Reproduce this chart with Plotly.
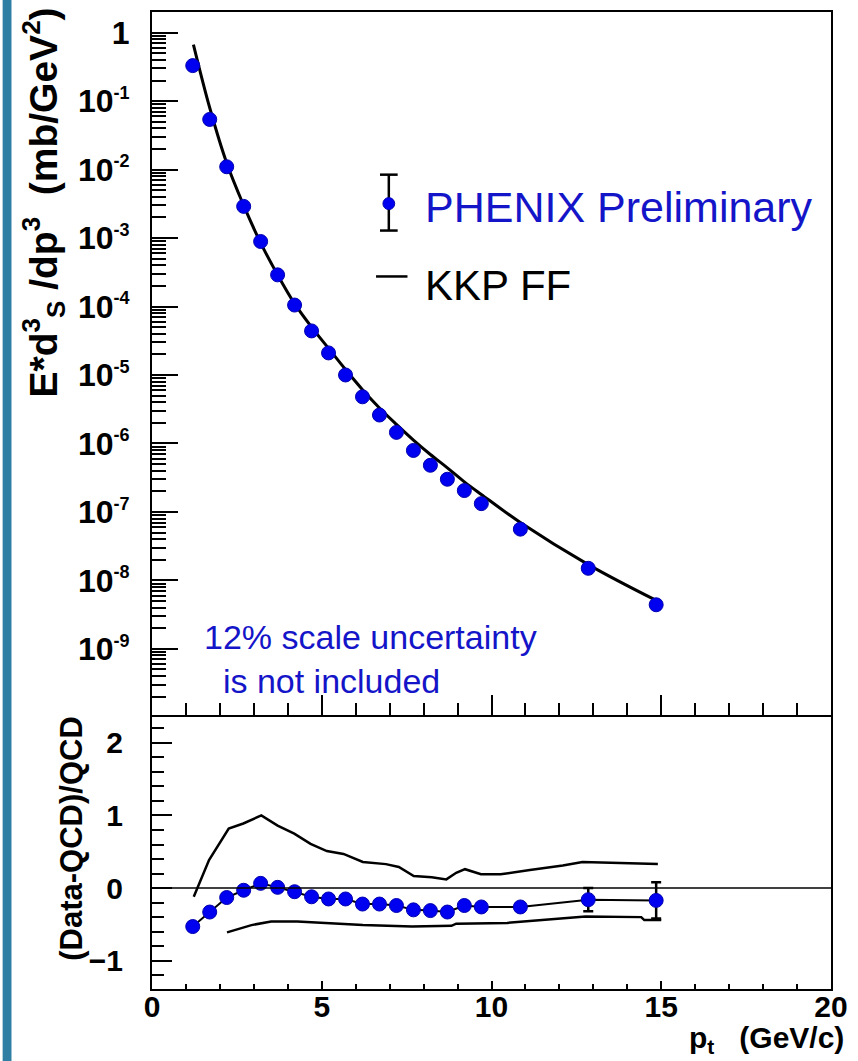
import plotly.graph_objects as go

# ---------------- data ----------------
pt = [1.2, 1.7, 2.2, 2.7, 3.2, 3.7, 4.2, 4.7, 5.2, 5.7, 6.2, 6.7, 7.2, 7.7,
      8.2, 8.7, 9.2, 9.7, 10.85, 12.85, 14.85]
xsec = [0.33, 0.054, 0.011, 2.9e-3, 8.9e-4, 2.9e-4, 1.05e-4, 4.4e-5, 2.1e-5,
        1.0e-5, 4.8e-6, 2.6e-6, 1.45e-6, 7.9e-7, 4.8e-7, 3.0e-7, 2.05e-7,
        1.32e-7, 5.6e-8, 1.5e-8, 4.4e-9]
ratio = [-0.53, -0.33, -0.13, -0.03, 0.065, 0.01, -0.05, -0.12, -0.15, -0.15,
         -0.22, -0.22, -0.24, -0.30, -0.31, -0.33, -0.24, -0.26, -0.26, -0.16,
         -0.17]
ratio_err = [0.05, 0.05, 0.05, 0.05, 0.05, 0.05, 0.05, 0.05, 0.05, 0.05, 0.05,
             0.05, 0.05, 0.05, 0.05, 0.05, 0.05, 0.05, 0.05, 0.16, 0.25]

kkp_pt = [1.22, 1.7, 2.2, 2.7, 3.2, 3.7, 4.2, 4.7, 5.2, 5.7, 6.2, 6.7, 7.2,
          7.7, 8.2, 8.7, 9.2, 9.7, 10.85, 12.85, 14.85]
kkp = [0.67, 0.08, 0.0125, 3.0e-3, 8.5e-4, 2.9e-4, 1.1e-4, 5.0e-5, 2.45e-5,
       1.2e-5, 6.1e-6, 3.3e-6, 1.9e-6, 1.12e-6, 6.9e-7, 4.4e-7, 2.75e-7,
       1.8e-7, 7.0e-8, 1.7e-8, 5.1e-9]

up_pt = [1.23, 1.68, 2.26, 2.69, 3.22, 3.7, 4.19, 4.67, 5.15, 5.64, 6.21,
         6.89, 7.27, 7.71, 8.24, 8.67, 8.96, 9.22, 9.69, 10.27, 11.13, 12.1,
         12.68, 13.74, 14.9]
up = [-0.12, 0.385, 0.82, 0.89, 1.0, 0.86, 0.75, 0.61, 0.51, 0.47, 0.36,
      0.33, 0.29, 0.165, 0.15, 0.12, 0.21, 0.26, 0.19, 0.19, 0.25, 0.31,
      0.36, 0.35, 0.33]

lo_pt = [2.21, 2.93, 3.51, 4.28, 6.21, 7.27, 7.66, 8.82, 8.96, 10.46, 11.42,
         12.1, 12.77, 14.41, 14.5, 15.0]
lo = [-0.61, -0.51, -0.46, -0.46, -0.51, -0.52, -0.53, -0.52, -0.49, -0.48,
      -0.44, -0.42, -0.39, -0.40, -0.44, -0.44]

top_tickvals = [1, 1e-1, 1e-2, 1e-3, 1e-4, 1e-5, 1e-6, 1e-7, 1e-8, 1e-9]
top_exponents = ["", "-1", "-2", "-3", "-4", "-5", "-6", "-7", "-8", "-9"]

# ---------------- layout helpers ----------------
W, H = 858, 1061
L, R, T, B = 152, 15, 10, 72
PW, PH = W - L - R, H - T - B
split = 275 / PH

def px_x(px):
    return (px - L) / PW

def px_y(py):
    return (H - B - py) / PH

FONT = "Liberation Sans, Arial, sans-serif"
BLUE = "#0000f0"

top_ticktext = ["1" if e == "" else
                '10<sup><span style="font-size:18px">%s</span></sup>' % e
                for e in top_exponents]

minor_log = [k * 10.0 ** e for e in range(-10, 1) for k in range(2, 10)]

fig = go.Figure()

# top panel
fig.add_trace(go.Scatter(x=kkp_pt, y=kkp, mode="lines", line=dict(color="black", width=3, shape="spline"),
                         xaxis="x", yaxis="y", showlegend=False))
fig.add_trace(go.Scatter(x=pt, y=xsec, mode="markers",
                         marker=dict(color=BLUE, size=14, line=dict(color="#0000b0", width=1)),
                         xaxis="x", yaxis="y", showlegend=False))

# bottom panel
fig.add_trace(go.Scatter(x=up_pt, y=up, mode="lines", line=dict(color="black", width=2.5),
                         xaxis="x2", yaxis="y2", showlegend=False))
fig.add_trace(go.Scatter(x=lo_pt, y=lo, mode="lines", line=dict(color="black", width=2.5),
                         xaxis="x2", yaxis="y2", showlegend=False))
fig.add_trace(go.Scatter(x=pt, y=ratio, mode="lines+markers",
                         line=dict(color="black", width=2),
                         marker=dict(color=BLUE, size=14, line=dict(color="#0000b0", width=1)),
                         error_y=dict(type="data", array=ratio_err, visible=True, color="black",
                                      thickness=2.5, width=5),
                         xaxis="x2", yaxis="y2", showlegend=False))

axis_common = dict(showline=True, linecolor="black", linewidth=2,
                   ticks="inside", tickcolor="black", showgrid=False, zeroline=False)

fig.update_layout(
    width=W, height=H,
    margin=dict(l=L, r=R, t=T, b=B),
    paper_bgcolor="white", plot_bgcolor="white",
    font=dict(family=FONT, color="black"),
    xaxis=dict(**axis_common, mirror=True, domain=[0, 1], anchor="y", range=[0, 20],
               tickvals=[0, 5, 10, 15, 20], ticklen=20, tickwidth=2,
               showticklabels=False,
               minor=dict(ticks="inside", tickvals=list(range(0, 21)), ticklen=12,
                          tickwidth=2, tickcolor="black")),
    yaxis=dict(**axis_common, mirror=True, domain=[split, 1], anchor="x", type="log",
               range=[-9.960, 0.3017], tickvals=top_tickvals, ticktext=top_ticktext,
               ticklen=26, tickwidth=2, ticklabelstandoff=14,
               tickfont=dict(size=32, family=FONT, weight="bold"),
               minor=dict(ticks="inside", tickvals=minor_log, ticklen=14,
                          tickwidth=1.5, tickcolor="black")),
    xaxis2=dict(**axis_common, mirror=False, domain=[0, 1], anchor="y2", range=[0, 20],
                tickvals=[0, 5, 10, 15, 20], ticklen=8, tickwidth=2,
                ticklabelstandoff=-10,
                tickfont=dict(size=30, family=FONT, weight="bold"),
                ticklabeloverflow="allow",
                minor=dict(ticks="inside", tickvals=list(range(0, 21)), ticklen=5,
                           tickwidth=1.5, tickcolor="black")),
    yaxis2=dict(**axis_common, mirror=True, domain=[0, split], anchor="x2", range=[-1.39, 2.39],
                tickvals=[-1, 0, 1, 2], ticklen=20, tickwidth=2, ticklabelstandoff=21,
                tickfont=dict(size=30, family=FONT, weight="bold"),
                minor=dict(ticks="inside", dtick=0.2, tick0=0, ticklen=12,
                           tickwidth=1.5, tickcolor="black")),
)

shapes = []
# left blue strip
shapes.append(dict(type="rect", xref="paper", yref="paper",
                   x0=px_x(0), x1=px_x(9), y0=px_y(H + 2), y1=px_y(-2),
                   fillcolor="#2f7ea3", line=dict(width=0), layer="above"))
# zero line in ratio panel
shapes.append(dict(type="line", xref="x2", yref="y2", x0=0, x1=20, y0=0, y1=0,
                   line=dict(color="black", width=1.5)))
# legend: error bar symbol
ex = px_x(393)
shapes.append(dict(type="line", xref="paper", yref="paper", x0=ex, x1=ex,
                   y0=px_y(229), y1=px_y(173), line=dict(color="black", width=2.5)))
for yy in (173, 229):
    shapes.append(dict(type="line", xref="paper", yref="paper", x0=px_x(384), x1=px_x(402),
                       y0=px_y(yy), y1=px_y(yy), line=dict(color="black", width=2.5)))
shapes.append(dict(type="circle", xref="paper", yref="paper",
                   x0=px_x(387), x1=px_x(399), y0=px_y(208), y1=px_y(196),
                   fillcolor=BLUE, line=dict(color="#0000b0", width=1)))
# legend: KKP line
shapes.append(dict(type="line", xref="paper", yref="paper", x0=px_x(380), x1=px_x(412),
                   y0=px_y(275), y1=px_y(275), line=dict(color="black", width=2.5)))
fig.update_layout(shapes=shapes)

ann = []
ann.append(dict(text="PHENIX Preliminary", x=px_x(428), y=px_y(205), xref="paper", yref="paper",
                xanchor="left", yanchor="middle", showarrow=False,
                font=dict(size=43, family=FONT, color="#1414c8")))
ann.append(dict(text="KKP FF", x=px_x(428), y=px_y(284), xref="paper", yref="paper",
                xanchor="left", yanchor="middle", showarrow=False,
                font=dict(size=42, family=FONT, color="black")))
ann.append(dict(text="12% scale uncertainty<br>  is not included", x=px_x(203), y=px_y(658),
                xref="paper", yref="paper", xanchor="left", yanchor="middle", align="left",
                showarrow=False, font=dict(size=34, family=FONT, color="#1414c8")))
ann.append(dict(text='<b>E*d<sup><span style="font-size:26px">3</span></sup>'
                     '<sub><span style="font-size:26px">S</span></sub> /dp'
                     '<sup><span style="font-size:26px">3</span></sup>  (mb/GeV'
                     '<sup><span style="font-size:26px">2</span></sup>)</b>',
                x=px_x(42), y=px_y(201), xref="paper", yref="paper", textangle=-90,
                xanchor="center", yanchor="middle", showarrow=False,
                font=dict(size=39, family=FONT, color="black")))
ann.append(dict(text="<b>(Data-QCD)/QCD</b>", x=px_x(70), y=px_y(838),
                xref="paper", yref="paper", textangle=-90,
                xanchor="center", yanchor="middle", showarrow=False,
                font=dict(size=31, family=FONT, color="black")))
ann.append(dict(text="<b>p<sub>t</sub>   (GeV/c)</b>", x=px_x(858), y=px_y(1040),
                xref="paper", yref="paper", xanchor="right", yanchor="middle",
                showarrow=False, font=dict(size=30, family=FONT, color="black")))
fig.update_layout(annotations=ann)

fig.write_html("out.html")
